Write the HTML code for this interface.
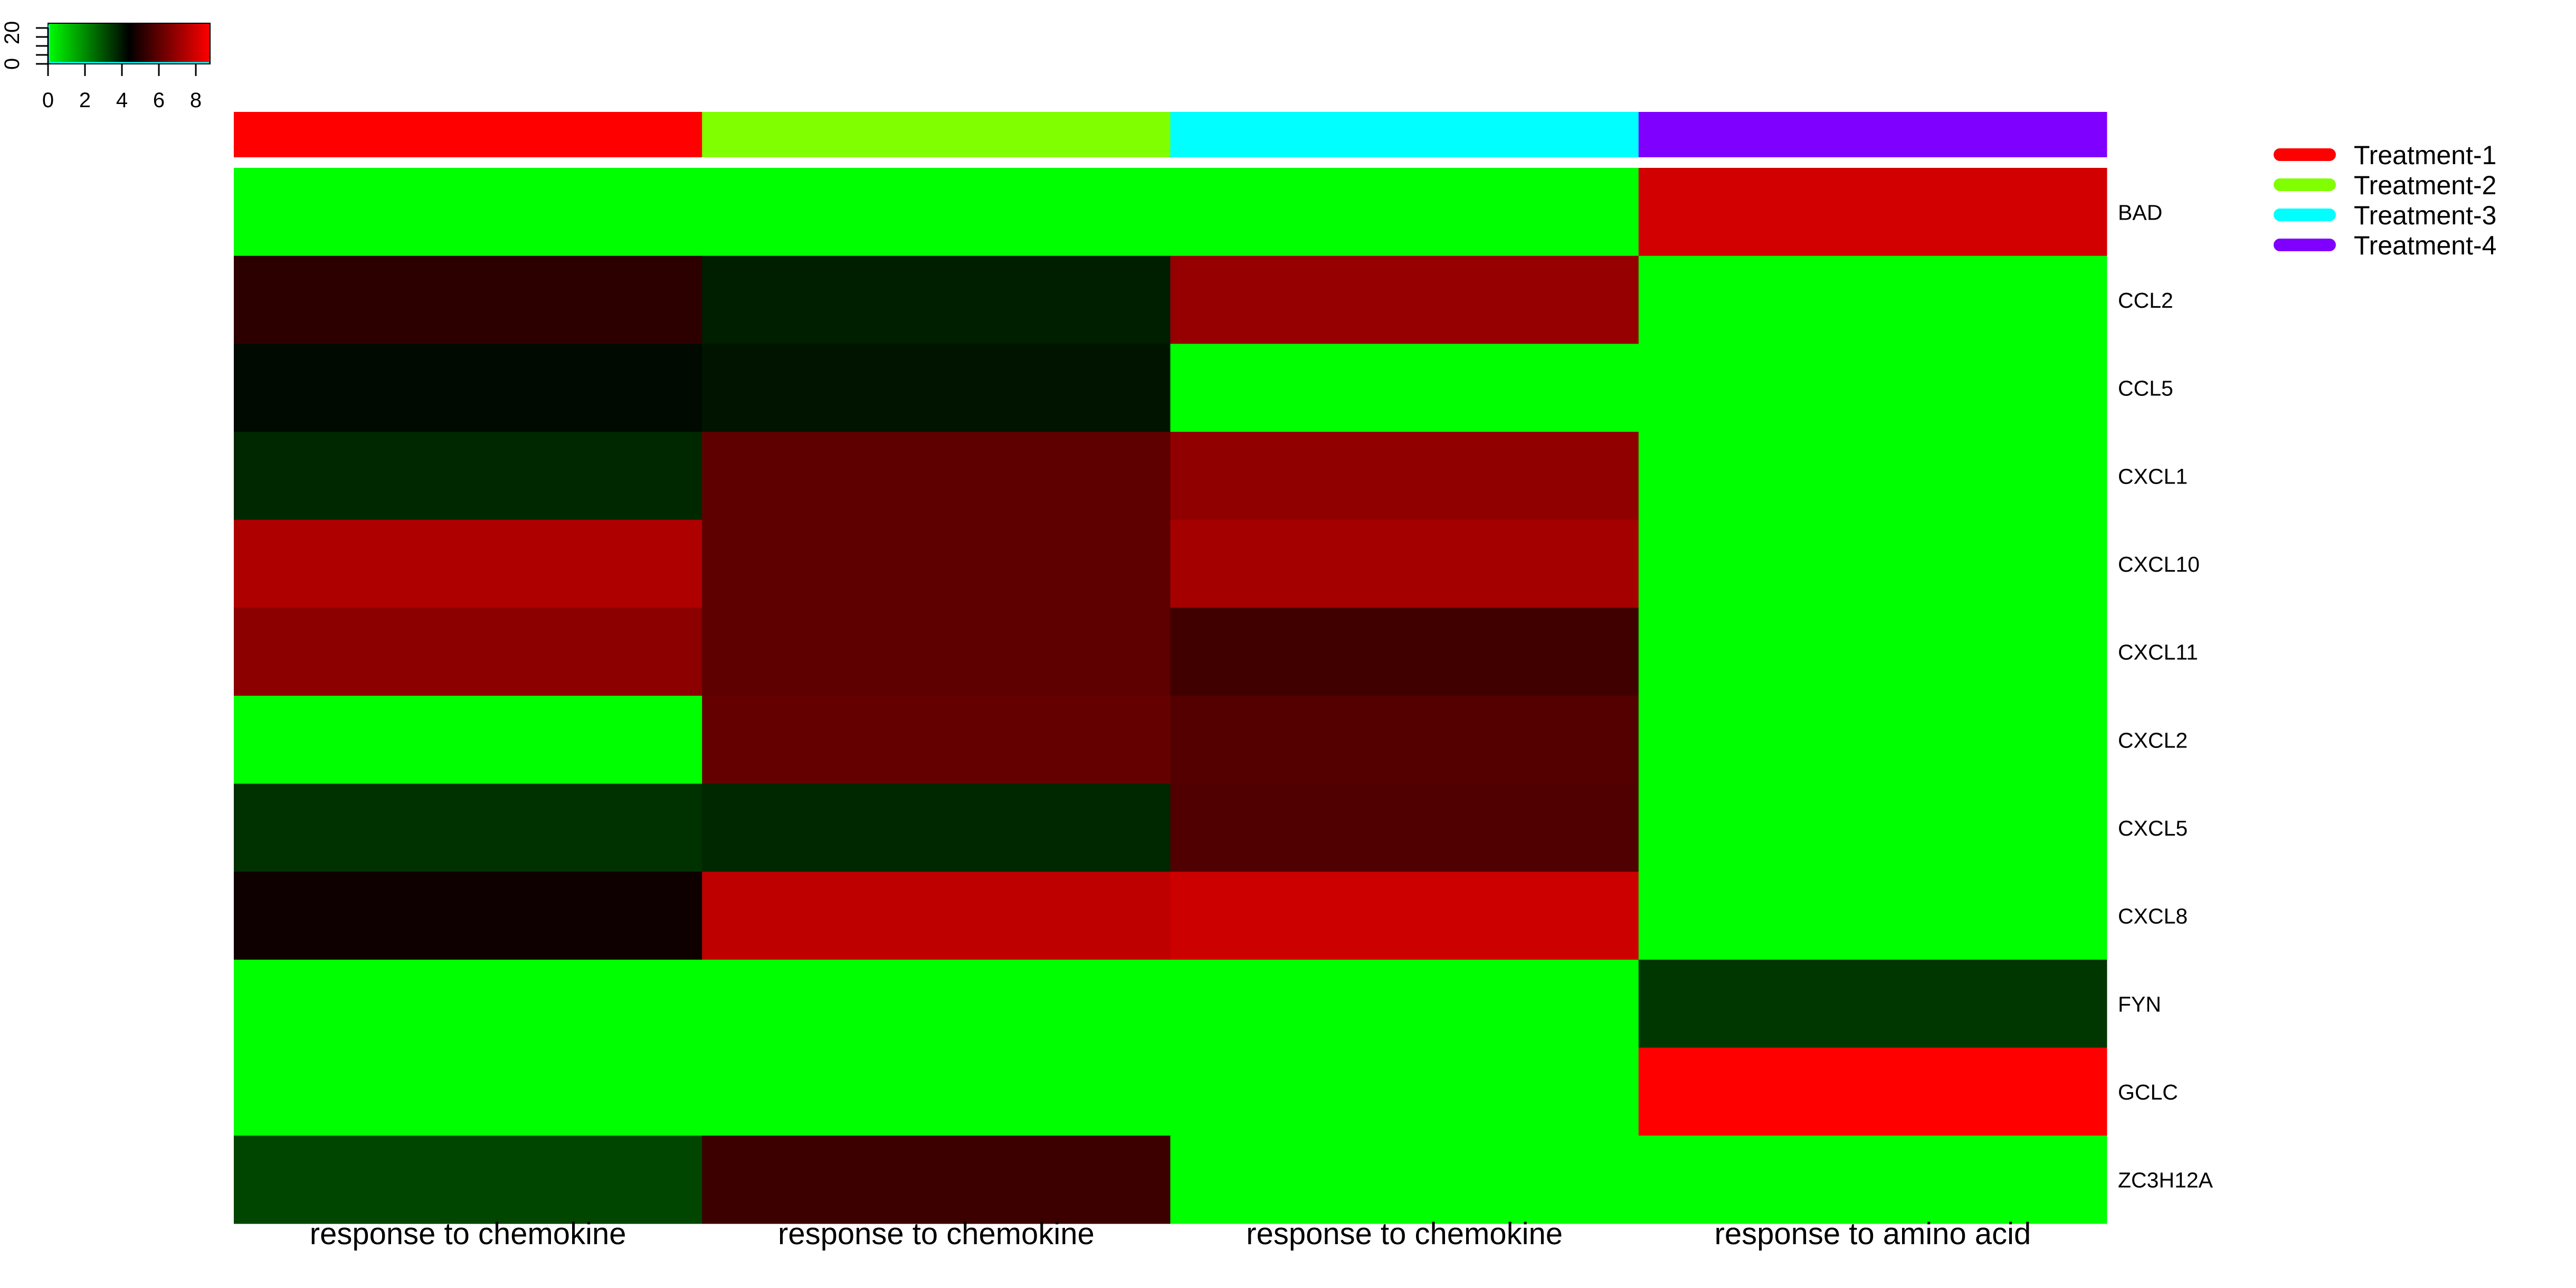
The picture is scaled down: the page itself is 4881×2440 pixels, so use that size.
<!DOCTYPE html>
<html><head><meta charset="utf-8"><style>
html,body{margin:0;padding:0;background:#fff;}
svg{display:block;font-family:"Liberation Sans",Arial,sans-serif;}
</style></head><body>
<svg id="chart" width="4881" height="2440" viewBox="0 0 4881 2440">
<defs><linearGradient id="kg" x1="0" x2="1" y1="0" y2="0">
<stop offset="0" stop-color="#00ff00"/><stop offset="0.5" stop-color="#000000"/><stop offset="1" stop-color="#ff0000"/></linearGradient></defs>
<g id="key"></g>
<g id="colbar"></g>
<g id="cells"></g>
<g id="rowlabels"></g>
<g id="collabels"></g>
<g id="legend"></g>
</svg>
<script>
const genes = ["BAD","CCL2","CCL5","CXCL1","CXCL10","CXCL11","CXCL2","CXCL5","CXCL8","FYN","GCLC","ZC3H12A"];
const columns = ["response to chemokine","response to chemokine","response to chemokine","response to amino acid"];
const treatments = ["Treatment-1","Treatment-2","Treatment-3","Treatment-4"];
const treatmentColors = ["#ff0000","#80ff00","#00ffff","#8000ff"];
const values = [
 [0,0,0,8.0],
 [5.16,3.87,6.96,0],
 [4.21,4.04,0,0],
 [3.70,6.02,6.88,0],
 [7.39,6.02,7.22,0],
 [6.79,6.02,5.50,0],
 [0,6.10,5.85,0],
 [3.53,3.70,5.76,0],
 [4.64,7.65,7.91,0],
 [0,0,0,3.44],
 [0,0,0,8.77],
 [3.18,5.42,0,0]
];
const keyTicks = [0,2,4,6,8];
const vMin = 0, vMax = 8.77;
const NS="http://www.w3.org/2000/svg";
function mk(tag,attrs,parent){const e=document.createElementNS(NS,tag);for(const k in attrs)e.setAttribute(k,attrs[k]);parent.appendChild(e);return e;}
const L=443,R=3992,T=318,B=2318;
const cw=(R-L)/columns.length, rh=(B-T)/genes.length;
const xCol=i=>L+i*cw, yRow=j=>T+j*rh;
const mid=(vMin+vMax)/2;
function color(v){
  if(v<=mid){const g=Math.round(255*(1-(v-vMin)/(mid-vMin)));return `rgb(0,${g},0)`;}
  const r=Math.round(255*(v-mid)/(vMax-mid));return `rgb(${Math.min(255,r)},0,0)`;
}
const cells=document.getElementById('cells');
values.forEach((row,j)=>row.forEach((v,i)=>{
  const r=mk('rect',{x:xCol(i),y:yRow(j),width:cw+0.5,height:rh+0.5,fill:color(v)},cells);
  
  
}));
const cb=document.getElementById('colbar');
treatmentColors.forEach((c,i)=>{
  const r=mk('rect',{x:xCol(i),y:212,width:cw+0.5,height:86,fill:c},cb);
  
  
});
const rl=document.getElementById('rowlabels');
genes.forEach((g,j)=>{
  const t=mk('text',{x:4013,y:yRow(j)+rh/2+15,'font-size':41},rl);t.textContent=g;
  
  
});
const cl=document.getElementById('collabels');
columns.forEach((c,i)=>{
  const t=mk('text',{x:xCol(i)+cw/2,y:2357,'font-size':58,'text-anchor':'middle'},cl);t.textContent=c;
  
  
});
const lg=document.getElementById('legend');
treatments.forEach((tr,i)=>{
  const y=293+i*57;
  const ln=mk('line',{x1:4320,x2:4414,y1:y,y2:y,stroke:treatmentColors[i],'stroke-width':24,'stroke-linecap':'round'},lg);
  
  
  const t=mk('text',{x:4460,y:y+18,'font-size':50},lg);t.textContent=tr;
  
  
});
// color key
const key=document.getElementById('key');
const kL=91,kR=398,kT=44,kB=121;
const kx=v=>kL+(v-vMin)/(vMax-vMin)*(kR-kL);
mk('rect',{x:kL,y:kT,width:kR-kL,height:kB-kT,fill:'url(#kg)',stroke:'#000','stroke-width':2},key);
mk('polyline',{points:`${kL+2},${kT+4} ${kL+2},${kB-2} ${kR-2},${kB-2}`,fill:'none',stroke:'#00ffff','stroke-width':3},key);
mk('line',{x1:kL,x2:kR,y1:kB,y2:kB,stroke:'#000','stroke-width':2},key);
keyTicks.forEach(v=>{
  mk('line',{x1:kx(v),x2:kx(v),y1:kB,y2:kB+23,stroke:'#000','stroke-width':3},key);
  const t=mk('text',{x:kx(v),y:203,'font-size':40,'text-anchor':'middle'},key);t.textContent=v;
  
  
});
mk('line',{x1:kL,x2:kL,y1:kT+8,y2:kB,stroke:'#000','stroke-width':3},key);
[0,1,2,3,4].forEach(k=>mk('line',{x1:68,x2:kL,y1:kB-k*17,y2:kB-k*17,stroke:'#000','stroke-width':3},key));
const y0=mk('text',{x:0,y:0,'font-size':40,'text-anchor':'middle',transform:`translate(36,${kB}) rotate(-90)`},key);y0.textContent='0';


const y20=mk('text',{x:0,y:0,'font-size':40,'text-anchor':'middle',transform:`translate(36,${kT+18}) rotate(-90)`},key);y20.textContent='20';


</script>
</body></html>
